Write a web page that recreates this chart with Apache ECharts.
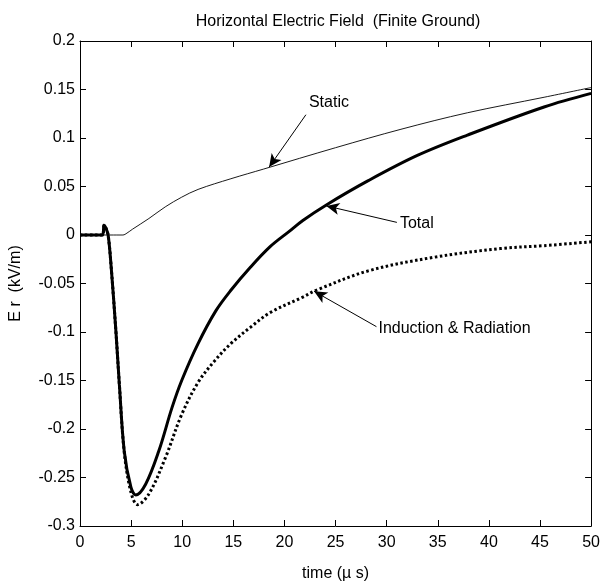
<!DOCTYPE html>
<html>
<head>
<meta charset="utf-8">
<script src="https://cdn.jsdelivr.net/npm/echarts@6/dist/echarts.min.js"></script>
<style>
html,body{margin:0;padding:0;background:#fff;}
#c{width:603px;height:587px;}
</style>
</head>
<body>
<div id="c"></div>
<script>
// ---- data (time in µs, field in kV/m) ----
var staticT = [0, 4.2, 4.6, 5.14, 6.74, 8.34, 9.95, 11.55, 14.76, 17.97, 25.0, 31.4, 37.9, 45.4, 50];
var staticV = [0, 0, 0.002, 0.006, 0.017, 0.029, 0.039, 0.047, 0.058, 0.068, 0.090, 0.109, 0.126, 0.142, 0.152];

var totalT = [0, 2.2, 2.35, 2.5, 2.75, 3.05, 3.53, 3.85, 4.33, 4.98, 5.46, 6.42, 7.7, 9.0, 9.95, 11.55, 13.3, 14.76, 16.69, 18.6, 20.5, 21.8, 24.1, 28.2, 33.0, 37.9, 45.4, 50];
var totalV = [0, 0, 0.010, 0.008, 0, -0.033, -0.102, -0.154, -0.223, -0.260, -0.268, -0.257, -0.223, -0.178, -0.150, -0.112, -0.078, -0.057, -0.033, -0.012, 0.004, 0.015, 0.031, 0.056, 0.082, 0.103, 0.132, 0.146];

var indT = [0, 2.2, 2.35, 2.5, 2.75, 3.05, 3.53, 3.85, 4.33, 4.98, 5.62, 6.74, 8.34, 9.95, 11.55, 13.15, 14.76, 16.69, 18.6, 21.8, 23.1, 28.2, 34.6, 41.1, 45.4, 50];
var indV = [0, 0, 0.010, 0.008, 0, -0.033, -0.102, -0.154, -0.224, -0.265, -0.278, -0.267, -0.230, -0.185, -0.152, -0.130, -0.112, -0.095, -0.080, -0.064, -0.057, -0.037, -0.023, -0.014, -0.011, -0.007];

var xTicks = [0, 5, 10, 15, 20, 25, 30, 35, 40, 45, 50];
var yTicks = [-0.3, -0.25, -0.2, -0.15, -0.1, -0.05, 0, 0.05, 0.1, 0.15, 0.2];

// annotations (data coordinates)
var annotText = ['Static', 'Total', 'Induction & Radiation'];
var annotTextAt = [[22.3, 0.137], [31.2, 0.012], [29.1, -0.096]];
var annotFrom = [[22.1, 0.124], [31.0, 0.013], [29.0, -0.0945]];
var annotTip = [[18.5, 0.070], [24.1, 0.030], [22.9, -0.058]];

var titleText = 'Horizontal Electric Field  (Finite Ground)';
var xName = 'time (\u00b5 s)';
var yName = 'E r  (kV/m)';

function pairs(t, v) { return t.map(function (x, i) { return [x, v[i]]; }); }

var FONT = '"Liberation Sans", Arial, sans-serif';

function annot(i) {
  return {
    markLine: {
      silent: true,
      animation: false,
      symbol: ['none', 'arrow'],
      symbolSize: [9, 13],
      lineStyle: { color: '#000', width: 1, type: 'solid' },
      label: { show: false },
      data: [[{ coord: annotFrom[i] }, { coord: annotTip[i] }]]
    },
    markPoint: {
      silent: true,
      animation: false,
      symbol: 'circle',
      symbolSize: 0,
      label: {
        show: true, position: 'right', distance: 1,
        color: '#000', fontSize: 16, fontFamily: FONT,
        formatter: annotText[i]
      },
      data: [{ coord: annotTextAt[i] }]
    }
  };
}

var chart = echarts.init(document.getElementById('c'), null, { renderer: 'canvas' });

var axX = {
  type: 'value', min: 0, max: 50, interval: 5,
  axisLine: { show: true, onZero: false, lineStyle: { color: '#000', width: 1 } },
  axisTick: { show: true, inside: true, length: 6, lineStyle: { color: '#000' } },
  splitLine: { show: false }
};
var axY = {
  type: 'value', min: -0.3, max: 0.2, interval: 0.05,
  axisLine: { show: true, onZero: false, lineStyle: { color: '#000', width: 1 } },
  axisTick: { show: true, inside: true, length: 6, lineStyle: { color: '#000' } },
  splitLine: { show: false }
};

var s1 = Object.assign({
  type: 'line', name: 'Static', data: pairs(staticT, staticV),
  showSymbol: false, smooth: 0.35,
  lineStyle: { color: '#000', width: 0.9 }, z: 3
}, annot(0));
var s2 = Object.assign({
  type: 'line', name: 'Total', data: pairs(totalT, totalV),
  showSymbol: false, smooth: 0.35,
  lineStyle: { color: '#000', width: 3 }, z: 4
}, annot(1));
var s3 = Object.assign({
  type: 'line', name: 'Induction & Radiation', data: pairs(indT, indV),
  showSymbol: false, smooth: 0.35,
  lineStyle: { color: '#000', width: 3, type: [2.5, 2.5] }, z: 2
}, annot(2));

chart.setOption({
  animation: false,
  backgroundColor: '#fff',
  textStyle: { fontFamily: FONT },
  title: {
    text: titleText, left: 333, top: 9, textAlign: 'center',
    textStyle: { fontSize: 16, fontWeight: 'normal', color: '#000', fontFamily: FONT }
  },
  grid: { left: 73, right: 10, top: 41, bottom: 61, containLabel: false },
  xAxis: [
    Object.assign({}, axX, {
      position: 'bottom',
      name: xName, nameLocation: 'middle', nameGap: 40,
      nameTextStyle: { fontSize: 16, color: '#000', fontFamily: FONT },
      axisLabel: { show: true, color: '#000', fontSize: 16, margin: 9, fontFamily: FONT,
        formatter: function (v) { return xTicks.indexOf(v) >= 0 ? String(v) : ''; } }
    }),
    Object.assign({}, axX, { position: 'top', axisLabel: { show: false } })
  ],
  yAxis: [
    Object.assign({}, axY, {
      position: 'left',
      name: yName, nameLocation: 'middle', nameGap: 56, nameRotate: 90,
      nameTextStyle: { fontSize: 16, color: '#000', fontFamily: FONT },
      axisLabel: { show: true, color: '#000', fontSize: 16, margin: 5, fontFamily: FONT,
        formatter: function (v) {
          var r = Math.round(v * 100) / 100;
          for (var i = 0; i < yTicks.length; i++) if (Math.abs(yTicks[i] - r) < 1e-9) return String(yTicks[i]);
          return '';
        } }
    }),
    Object.assign({}, axY, { position: 'right', axisLabel: { show: false } })
  ],
  series: [s1, s2, s3]
});
</script>
</body>
</html>
